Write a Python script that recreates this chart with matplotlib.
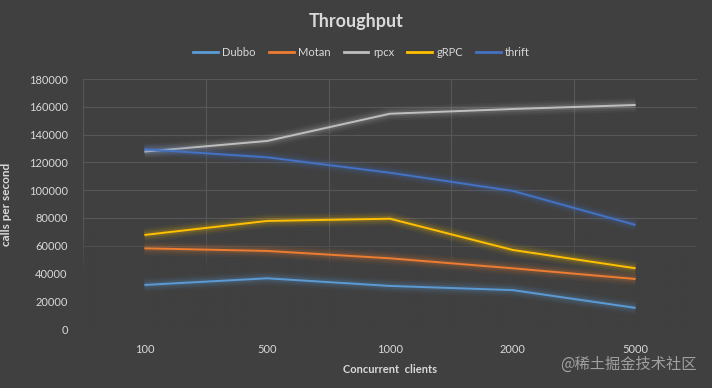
import numpy as np
import matplotlib
matplotlib.use("Agg")
import matplotlib.pyplot as plt
import matplotlib.patheffects as pe
from matplotlib.colors import to_rgb

# data
clients = ["100", "500", "1000", "2000", "5000"]
dubbo = [31700, 36500, 31000, 28000, 15200]
motan = [58100, 56200, 50900, 43700, 36000]
rpcx = [127700, 135400, 155000, 158400, 161300]
grpc = [67700, 77800, 79400, 56900, 43700]
thrift = [129400, 123600, 112500, 99400, 74900]

names = ["Dubbo", "Motan", "rpcx", "gRPC", "thrift"]
series = [dubbo, motan, rpcx, grpc, thrift]
colors = ["#5B9BD5", "#ED7D31", "#BFBFBF", "#FFC000", "#4472C4"]

bg = "#404040"
txt = "#D9D9D9"
grid_c = "#575757"

plt.rcParams["font.family"] = ["Lato", "DejaVu Sans"]

fig = plt.figure(figsize=(7.12, 3.88), dpi=100, facecolor=bg)
ax = fig.add_axes([83 / 712, 1 - 329 / 388, 614 / 712, 250 / 388])
ax.set_facecolor(bg)

x = np.arange(len(clients))
for name, vals, c in zip(names, series, colors):
    ax.plot(x, vals, color=c, lw=1.4, label=name, solid_capstyle="butt", zorder=3,
            path_effects=[pe.Stroke(linewidth=10, foreground=c, alpha=0.05),
                          pe.Stroke(linewidth=7, foreground=c, alpha=0.09),
                          pe.Stroke(linewidth=4, foreground=c, alpha=0.15),
                          pe.Normal()])

ax.set_xticks(np.arange(-0.5, 5, 1), minor=True)
ax.grid(axis="y", which="major", color=grid_c, lw=0.8, zorder=1)
ax.grid(axis="x", which="minor", color=grid_c, lw=0.8, zorder=1)
ax.set_axisbelow(True)

# the gridlines fade out toward the bottom of the plot
h = 300
fade = np.clip((np.linspace(1, 0, h) - 0.22) / 0.17, 0, 1)[:, None]
rgba = np.zeros((h, 1, 4))
rgba[..., :3] = to_rgb(bg)
rgba[..., 3] = 1 - fade
ax.imshow(rgba, extent=(0, 1, 0, 1), transform=ax.transAxes, aspect="auto", zorder=2,
          interpolation="bilinear")

ax.set_xlim(-0.5, 4.5)
ax.set_ylim(0, 180000)
ax.set_yticks(np.arange(0, 180001, 20000))
ax.set_xticks(x)
ax.set_xticklabels(clients)

for s in ax.spines.values():
    s.set_visible(False)
ax.tick_params(axis="both", which="both", length=0, colors=txt, labelsize=8)
ax.tick_params(axis="y", pad=11)
ax.tick_params(axis="x", pad=11)

ax.set_xlabel("Concurrent  clients", color=txt, fontsize=8, fontweight="bold", labelpad=6)
ax.set_ylabel("calls per second", color=txt, fontsize=8.5, fontweight="bold", labelpad=12)

fig.text(0.5, 1 - 21 / 388, "Throughput", ha="center", va="center",
         color=txt, fontsize=13, fontweight="bold")

leg_lines = [plt.Line2D([], [], color=c, lw=2) for c in colors]
leg = fig.legend(leg_lines, names, loc="center", bbox_to_anchor=(0.508, 1 - 52 / 388),
                 ncol=5, frameon=False, fontsize=8, handlelength=2.2,
                 handletextpad=0.4, columnspacing=1.2)
for t in leg.get_texts():
    t.set_color(txt)

fig.text(697 / 712, 1 - 364 / 388, "@稀土掘金技术社区", ha="right", va="center",
         color="#A0A0A0", fontsize=11, family=["Noto Sans CJK SC", "DejaVu Sans"])

fig.savefig("out.png", dpi=100, facecolor=bg)
